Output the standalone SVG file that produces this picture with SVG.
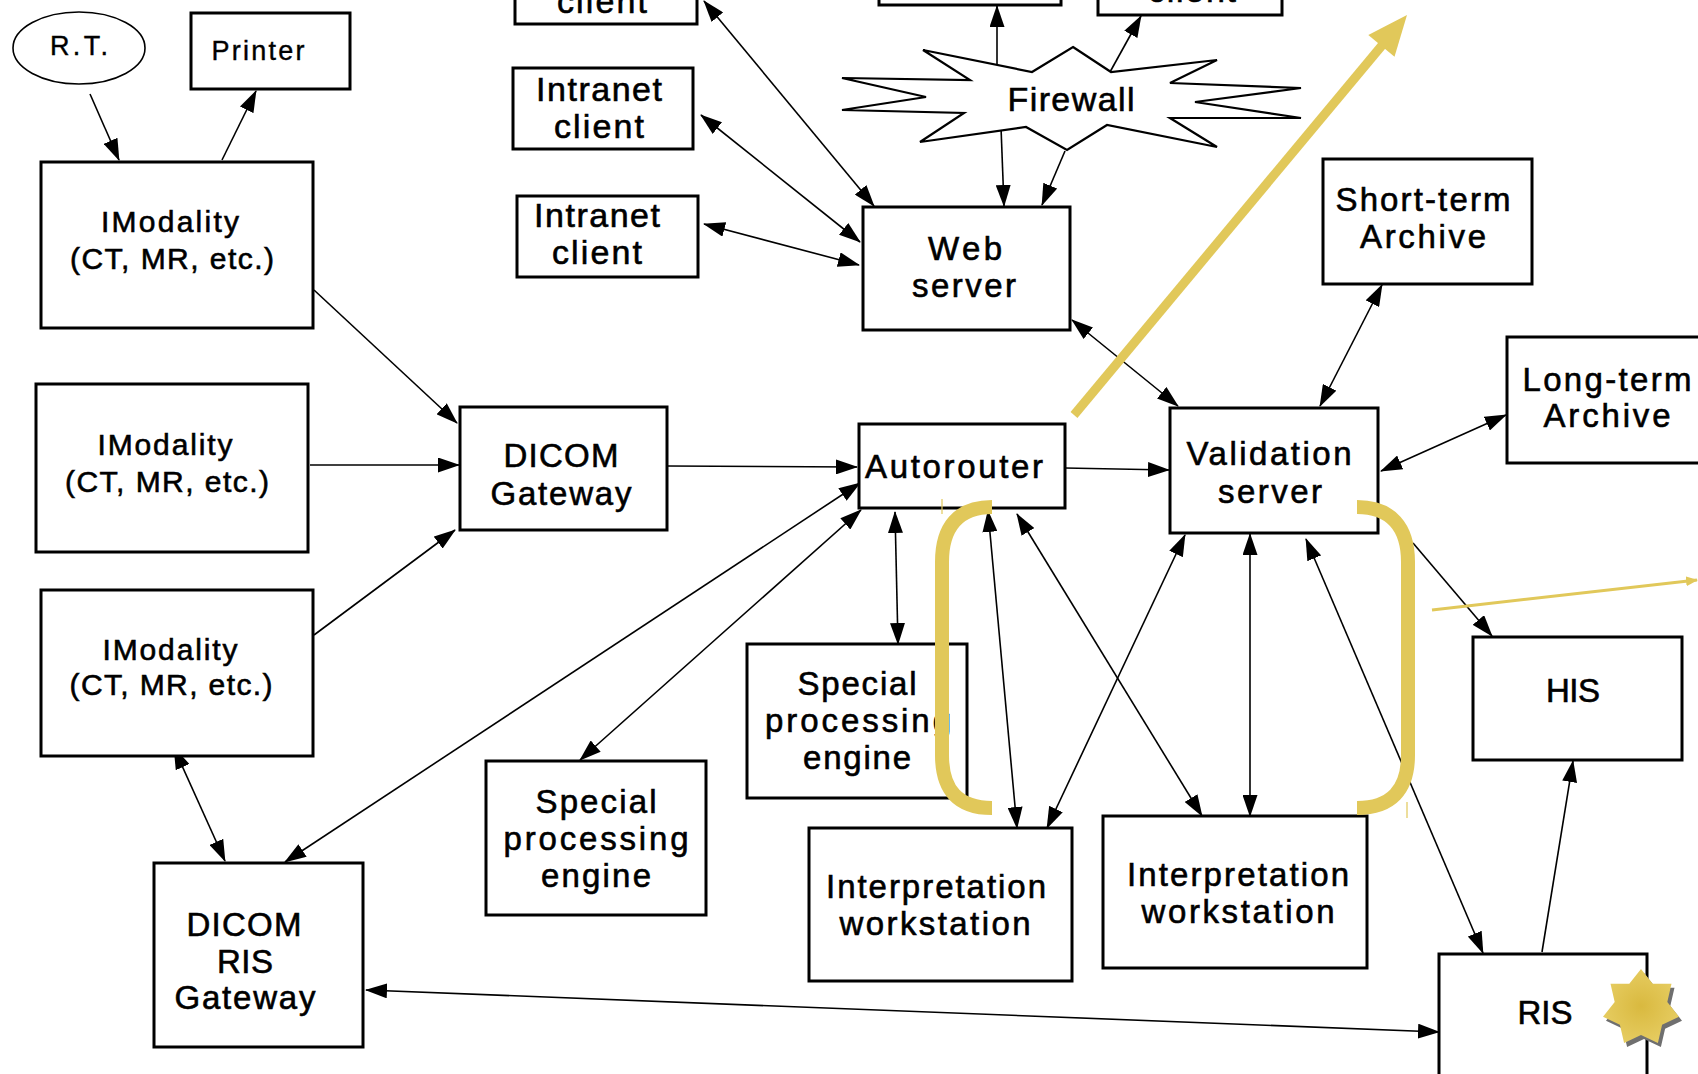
<svg xmlns="http://www.w3.org/2000/svg" width="1698" height="1074" viewBox="0 0 1698 1074">
<style>
  .box { fill: #fff; stroke: #000; stroke-width: 3; }
  .t { font-family: "Liberation Sans", Arial, sans-serif; font-size: 33px; fill: #000; stroke: #000; stroke-width: 0.6; text-anchor: middle; dominant-baseline: central; }
  .sm { font-size: 27px; stroke-width: 0.4; }
  .md { font-size: 30px; }
  .lg { font-size: 34px; }
  .c { fill: none; stroke: #000; stroke-width: 1.6; }
  .y { fill: none; stroke: #E1C85A; stroke-linecap: butt; }
</style>
<defs>
  <marker id="ah" viewBox="0 0 22 15" refX="21" refY="7.5" markerWidth="22" markerHeight="15" markerUnits="userSpaceOnUse" orient="auto-start-reverse">
    <path d="M0,0 L22,7.5 L0,15 z" fill="#000"/>
  </marker>
  <marker id="yah" viewBox="0 0 12 10" refX="11" refY="5" markerWidth="12" markerHeight="10" markerUnits="userSpaceOnUse" orient="auto">
    <path d="M0,0 L12,5 L0,10 z" fill="#E1C85A"/>
  </marker>
  <polygon id="star7" points="0,-39 11.7,-24.3 30.5,-24.3 26.3,-6 38,8.7 21.1,16.8 16.9,35.1 0,27 -16.9,35.1 -21.1,16.8 -38,8.7 -26.3,-6 -30.5,-24.3 -11.7,-24.3"/>
  <radialGradient id="gold" cx="0.5" cy="0.5" r="0.6">
    <stop offset="0" stop-color="#D9B93F"/>
    <stop offset="1" stop-color="#E8CF66"/>
  </radialGradient>
</defs>

<g id="connectors">
  <line class="c" x1="90" y1="94" x2="119" y2="160" marker-end="url(#ah)"/>
  <line class="c" x1="222" y1="160" x2="256" y2="91" marker-end="url(#ah)"/>
  <line class="c" x1="314" y1="290" x2="457" y2="423" marker-end="url(#ah)"/>
  <line class="c" x1="310" y1="465" x2="459" y2="465" marker-end="url(#ah)"/>
  <line class="c" x1="314" y1="635" x2="455" y2="530" marker-end="url(#ah)"/>
  <line class="c" x1="667" y1="466" x2="857" y2="467" marker-end="url(#ah)"/>
  <line class="c" x1="1065" y1="468" x2="1169" y2="470" marker-end="url(#ah)"/>
  <line class="c" x1="174" y1="748" x2="225" y2="861" marker-start="url(#ah)" marker-end="url(#ah)"/>
  <line class="c" x1="860" y1="483" x2="285" y2="862" marker-start="url(#ah)" marker-end="url(#ah)"/>
  <line class="c" x1="861" y1="510" x2="580" y2="760" marker-start="url(#ah)" marker-end="url(#ah)"/>
  <line class="c" x1="895" y1="512" x2="898" y2="644" marker-start="url(#ah)" marker-end="url(#ah)"/>
  <line class="c" x1="988" y1="511" x2="1017" y2="828" marker-start="url(#ah)" marker-end="url(#ah)"/>
  <line class="c" x1="1017" y1="514" x2="1202" y2="816" marker-start="url(#ah)" marker-end="url(#ah)"/>
  <line class="c" x1="1185" y1="535" x2="1047" y2="828" marker-start="url(#ah)" marker-end="url(#ah)"/>
  <line class="c" x1="1250" y1="534" x2="1250" y2="816" marker-start="url(#ah)" marker-end="url(#ah)"/>
  <line class="c" x1="1306" y1="539" x2="1483" y2="953" marker-start="url(#ah)" marker-end="url(#ah)"/>
  <line class="c" x1="1413" y1="543" x2="1492" y2="636" marker-end="url(#ah)"/>
  <line class="c" x1="1542" y1="952" x2="1573" y2="761" marker-end="url(#ah)"/>
  <line class="c" x1="366" y1="990" x2="1439" y2="1032" marker-start="url(#ah)" marker-end="url(#ah)"/>
  <line class="c" x1="1072" y1="320" x2="1178" y2="406" marker-start="url(#ah)" marker-end="url(#ah)"/>
  <line class="c" x1="1382" y1="285" x2="1320" y2="406" marker-start="url(#ah)" marker-end="url(#ah)"/>
  <line class="c" x1="1506" y1="415" x2="1381" y2="471" marker-start="url(#ah)" marker-end="url(#ah)"/>
  <line class="c" x1="701" y1="115" x2="860" y2="242" marker-start="url(#ah)" marker-end="url(#ah)"/>
  <line class="c" x1="704" y1="224" x2="859" y2="265" marker-start="url(#ah)" marker-end="url(#ah)"/>
  <line class="c" x1="704" y1="1" x2="874" y2="206" marker-start="url(#ah)" marker-end="url(#ah)"/>
  <line class="c" x1="997" y1="67" x2="997" y2="6" marker-end="url(#ah)"/>
  <line class="c" x1="1110" y1="72" x2="1141" y2="16" marker-end="url(#ah)"/>
  <line class="c" x1="1001" y1="127" x2="1004" y2="206" marker-end="url(#ah)"/>
  <line class="c" x1="1065" y1="151" x2="1042" y2="205" marker-end="url(#ah)"/>
</g>

<g id="rt"><ellipse cx="79" cy="48" rx="66" ry="36" fill="#fff" stroke="#000" stroke-width="1.6"/><text class="t sm" x="79" y="46" textLength="58">R.T.</text></g>
<g id="printer"><rect class="box" x="191" y="13" width="159" height="76"/><text class="t sm" x="258" y="51" textLength="93">Printer</text></g>
<g id="modality1"><rect class="box" x="41" y="162" width="272" height="166"/><text class="t md" x="170" y="221" textLength="138">IModality</text><text class="t md" x="172" y="258" textLength="204">(CT, MR, etc.)</text></g>
<g id="modality2"><rect class="box" x="36" y="384" width="272" height="168"/><text class="t md" x="165" y="444" textLength="135">IModality</text><text class="t md" x="167" y="481" textLength="204">(CT, MR, etc.)</text></g>
<g id="modality3"><rect class="box" x="41" y="590" width="272" height="166"/><text class="t md" x="170" y="649" textLength="135">IModality</text><text class="t md" x="171" y="684" textLength="203">(CT, MR, etc.)</text></g>
<g id="dicom-gateway"><rect class="box" x="460" y="407" width="207" height="123"/><text class="t" x="561" y="455" textLength="115">DICOM</text><text class="t" x="561" y="493" textLength="141">Gateway</text></g>
<g id="dicom-ris-gateway"><rect class="box" x="154" y="863" width="209" height="184"/><text class="t" x="244" y="924" textLength="115">DICOM</text><text class="t" x="245" y="961" textLength="56">RIS</text><text class="t" x="245" y="997" textLength="141">Gateway</text></g>
<g id="spe-low"><rect class="box" x="486" y="761" width="220" height="154"/><text class="t" x="596" y="801" textLength="121">Special</text><text class="t" x="596" y="838" textLength="185">processing</text><text class="t" x="596" y="875" textLength="110">engine</text></g>
<g id="spe-mid"><rect class="box" x="747" y="644" width="220" height="154"/><text class="t" x="857" y="683" textLength="119">Special</text><text class="t" x="858" y="720" textLength="186">processing</text><text class="t" x="857" y="757" textLength="108">engine</text></g>
<g id="iw1"><rect class="box" x="809" y="828" width="263" height="153"/><text class="t" x="936" y="886" textLength="220">Interpretation</text><text class="t" x="935" y="923" textLength="191">workstation</text></g>
<g id="iw2"><rect class="box" x="1103" y="816" width="264" height="152"/><text class="t" x="1238" y="874" textLength="222">Interpretation</text><text class="t" x="1238" y="911" textLength="193">workstation</text></g>
<g id="autorouter"><rect class="box" x="859" y="424" width="206" height="84"/><text class="t" x="954" y="466" textLength="178">Autorouter</text></g>
<g id="validation-server"><rect class="box" x="1170" y="408" width="208" height="125"/><text class="t" x="1269" y="453" textLength="165">Validation</text><text class="t" x="1270" y="491" textLength="104">server</text></g>
<g id="web-server"><rect class="box" x="863" y="207" width="207" height="123"/><text class="t" x="965" y="248" textLength="74">Web</text><text class="t" x="964" y="285" textLength="104">server</text></g>
<g id="short-term"><rect class="box" x="1323" y="159" width="209" height="125"/><text class="t" x="1423" y="199" textLength="175">Short-term</text><text class="t" x="1423" y="236" textLength="126">Archive</text></g>
<g id="long-term"><rect class="box" x="1507" y="337" width="200" height="126"/><text class="t" x="1607" y="379" textLength="169">Long-term</text><text class="t" x="1607" y="415" textLength="127">Archive</text></g>
<g id="his"><rect class="box" x="1473" y="637" width="209" height="123"/><text class="t" x="1573" y="690" textLength="54">HIS</text></g>
<g id="ris"><rect class="box" x="1439" y="954" width="208" height="140"/><text class="t" x="1545" y="1012" textLength="55">RIS</text></g>
<g id="intranet-top"><rect class="box" x="515" y="-40" width="182" height="64"/><text class="t lg" x="602" y="1" textLength="90">client</text></g>
<g id="intranet2"><rect class="box" x="513" y="68" width="180" height="81"/><text class="t lg" x="599" y="89" textLength="126">Intranet</text><text class="t lg" x="599" y="126" textLength="90">client</text></g>
<g id="intranet3"><rect class="box" x="517" y="196" width="181" height="81"/><text class="t lg" x="597" y="215" textLength="126">Intranet</text><text class="t lg" x="597" y="252" textLength="90">client</text></g>
<g id="box-a"><rect class="box" x="879" y="-40" width="182" height="45"/></g>
<g id="box-b"><rect class="box" x="1098" y="-40" width="184" height="55"/><text class="t lg" x="1192" y="-10" textLength="88">client</text></g>
<g id="firewall">
  <polygon points="1073,47 1111,72 1217,60 1170,83 1301,88 1195,102 1301,118 1170,118 1217,147 1107,125 1067,150 1026,127 920,142 964,113 842,110 926,97 842,78 970,80 923,50 1032,72" fill="#fff" stroke="#000" stroke-width="2.2" stroke-linejoin="miter"/>
  <text class="t lg" x="1071" y="99" textLength="127">Firewall</text>
</g>

<g id="annotations">
  <line class="y" x1="1074" y1="415" x2="1384" y2="43" stroke-width="9"/>
  <polygon points="1407,15 1394.5,56.7 1368.3,34.9" fill="#E1C85A"/>
  <line class="y" x1="1432" y1="610" x2="1697" y2="580" stroke-width="3" marker-end="url(#yah)"/>
  <path class="y" d="M 992 507 C 958 507, 942 527, 942 562 L 942 755 C 942 790, 958 808, 992 808" stroke-width="14"/>
  <path class="y" d="M 1357 507 C 1391 507, 1408 527, 1408 562 L 1408 755 C 1408 790, 1391 808, 1357 808" stroke-width="14"/>
  <line class="y" x1="942" y1="499" x2="942" y2="514" stroke-width="1.2"/>
  <line class="y" x1="1407" y1="802" x2="1407" y2="818" stroke-width="1.2"/>
  <use href="#star7" transform="translate(1644,1012)" fill="#6f6f6f"/>
  <use href="#star7" transform="translate(1641,1008)" fill="url(#gold)"/>
</g>
</svg>
